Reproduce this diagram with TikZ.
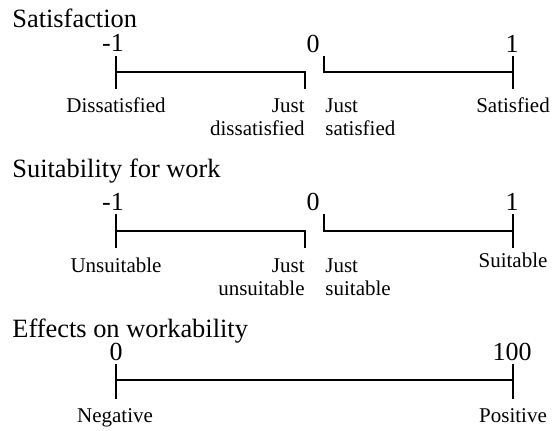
\documentclass[tikz,border=0pt]{standalone}
\usepackage{fontspec}
\setmainfont{Liberation Serif}
\usepackage{tikz}
\usetikzlibrary{positioning, calc}
\definecolor{mydark}{RGB}{0,0,0}
\tikzset{
  heading/.style={anchor=base west, inner sep=0pt, font=\fontsize{13.2}{15}\selectfont},
  num/.style={anchor=base, inner sep=0pt, font=\fontsize{13}{15}\selectfont},
  lbl/.style={anchor=base, inner sep=0pt, font=\fontsize{10.5}{11.5}\selectfont},
  scaleline/.style={line width=1pt, color=mydark}
}

\begin{document}
\begin{tikzpicture}[x=0.5pt, y=-0.5pt]
  \useasboundingbox (0,0) rectangle (556,430);

  % Satisfaction
  \node[heading] (sattitle) at (12,27) {Satisfaction};
  \coordinate (satLtop) at (116,56);
  \coordinate (satLmid) at (116,72);
  \coordinate (satLbot) at (116,89);
  \coordinate (satMl) at (305,72);
  \coordinate (satMlbot) at (305,89);
  \coordinate (satMrtop) at (324,56);
  \coordinate (satMr) at (324,72);
  \coordinate (satRtop) at (513,56);
  \coordinate (satRmid) at (513,72);
  \coordinate (satRbot) at (513,89);
  \draw[scaleline] (satLtop) -- (satLbot);
  \draw[scaleline] (satLmid) -- (satMl) -- (satMlbot);
  \draw[scaleline] (satMrtop) -- (satMr) -- (satRmid);
  \draw[scaleline] (satRtop) -- (satRbot);
  \node[num] (satminus) at (113,51) {-1};
  \node[num] (satzero) at (313,52) {0};
  \node[num] (satone) at (512,52) {1};
  \node[lbl] (dissat) at (116,112) {Dissatisfied};
  \node[lbl, anchor=base east, align=right] (justdis) at (305,135) {Just\\dissatisfied};
  \node[lbl, anchor=base west, align=left] (justsat) at (325,135) {Just\\satisfied};
  \node[lbl] (sat) at (513,112) {Satisfied};

  % Suitability for work
  \node[heading] (suittitle) at (12,177) {Suitability for work};
  \coordinate (suiLtop) at (116,214);
  \coordinate (suiLmid) at (116,231);
  \coordinate (suiLbot) at (116,248);
  \coordinate (suiMl) at (305,231);
  \coordinate (suiMlbot) at (305,248);
  \coordinate (suiMrtop) at (324,214);
  \coordinate (suiMr) at (324,231);
  \coordinate (suiRtop) at (513,214);
  \coordinate (suiRmid) at (513,231);
  \coordinate (suiRbot) at (513,248);
  \draw[scaleline] (suiLtop) -- (suiLbot);
  \draw[scaleline] (suiLmid) -- (suiMl) -- (suiMlbot);
  \draw[scaleline] (suiMrtop) -- (suiMr) -- (suiRmid);
  \draw[scaleline] (suiRtop) -- (suiRbot);
  \node[num] (suiminus) at (113,210) {-1};
  \node[num] (suizero) at (313,210) {0};
  \node[num] (suione) at (512,210) {1};
  \node[lbl] (unsuit) at (116,272) {Unsuitable};
  \node[lbl, anchor=base east, align=right] (justuns) at (305,295) {Just\\unsuitable};
  \node[lbl, anchor=base west, align=left] (justsui) at (325,295) {Just\\suitable};
  \node[lbl] (suit) at (513,267) {Suitable};

  % Effects on workability
  \node[heading] (efftitle) at (12,337) {Effects on workability};
  \coordinate (effLtop) at (116,364);
  \coordinate (effLmid) at (116,380);
  \coordinate (effLbot) at (116,399);
  \coordinate (effRtop) at (513,364);
  \coordinate (effRmid) at (513,380);
  \coordinate (effRbot) at (513,399);
  \draw[scaleline] (effLtop) -- (effLbot);
  \draw[scaleline] (effLmid) -- (effRmid);
  \draw[scaleline] (effRtop) -- (effRbot);
  \node[num] (effzero) at (116,360) {0};
  \node[num] (effhund) at (512,360) {100};
  \node[lbl] (neg) at (115,422) {Negative};
  \node[lbl] (pos) at (513,422) {Positive};
\end{tikzpicture}
\end{document}
